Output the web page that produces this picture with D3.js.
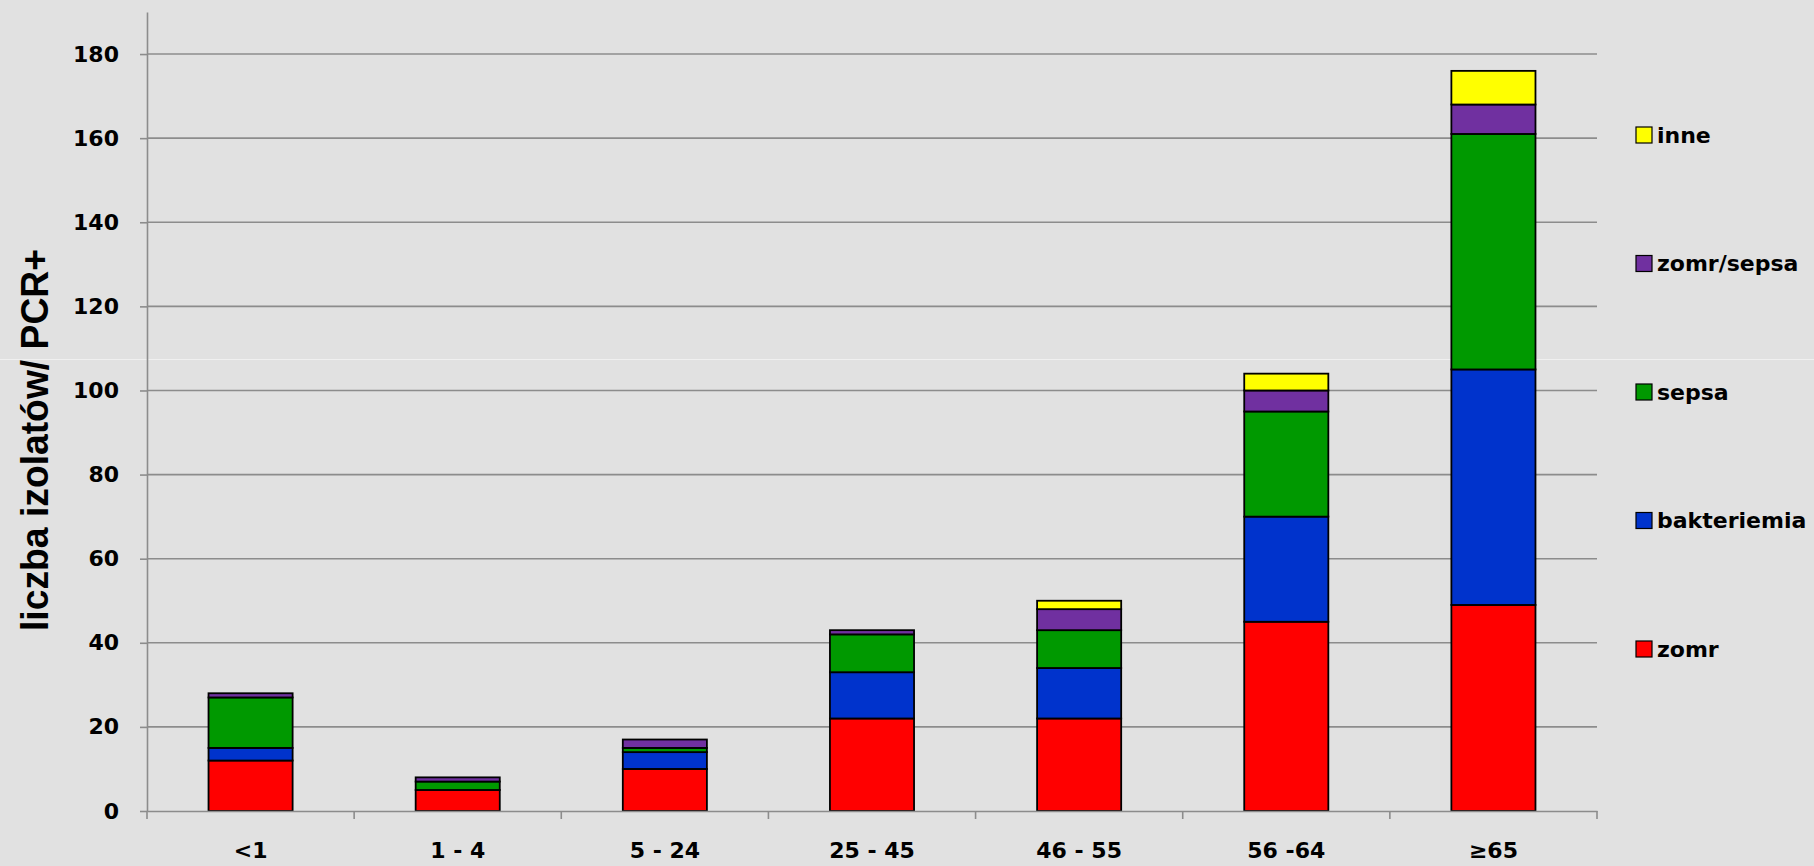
<!DOCTYPE html>
<html>
<head>
<meta charset="utf-8">
<script src="https://cdn.jsdelivr.net/npm/d3@7"></script>
<style>
  html, body { margin: 0; padding: 0; background: #e1e1e1; }
  svg { display: block; }
</style>
</head>
<body>
<svg id="chart" width="1814" height="866"></svg>
<script>
// ---- data ----
const categories = ["<1", "1 - 4", "5 - 24", "25 - 45", "46 - 55", "56 -64", "≥65"];
const seriesNames = ["zomr", "bakteriemia", "sepsa", "zomr/sepsa", "inne"];
const zomr        = [12, 5, 10, 22, 22, 45, 49];
const bakteriemia = [3, 0, 4, 11, 12, 25, 56];
const sepsa       = [12, 2, 1, 9, 9, 25, 56];
const zomrSepsa   = [1, 1, 2, 1, 5, 5, 7];
const inne        = [0, 0, 0, 0, 2, 4, 8];
const yTicks = [0, 20, 40, 60, 80, 100, 120, 140, 160, 180];
const yTitle = "liczba izolatów/ PCR+";

const colors = {"zomr": "#ff0000", "bakteriemia": "#0033cc", "sepsa": "#009900", "zomr/sepsa": "#7030a0", "inne": "#ffff00"};
const seriesValues = {"zomr": zomr, "bakteriemia": bakteriemia, "sepsa": sepsa, "zomr/sepsa": zomrSepsa, "inne": inne};

const table = categories.map((c, i) => {
  const row = {cat: c};
  seriesNames.forEach(s => row[s] = seriesValues[s][i]);
  return row;
});

const svg = d3.select("#chart");
const plotLeft = 147, plotRight = 1597, plotTop = 12, plotBottom = 811;

const x = d3.scaleBand().domain(categories).range([plotLeft, plotRight])
  .paddingInner(0.594).paddingOuter(0.297);
const y = d3.scaleLinear().domain([0, 190]).range([plotBottom, plotTop]);

// faint slide artifact line
svg.append("line").attr("x1", 0).attr("x2", 1814).attr("y1", 359.5).attr("y2", 359.5)
  .attr("stroke", "#f0f0f0").attr("stroke-width", 1);

// gridlines
svg.append("g").selectAll("line").data(yTicks.filter(d => d > 0)).join("line")
  .attr("x1", plotLeft).attr("x2", plotRight)
  .attr("y1", d => y(d)).attr("y2", d => y(d))
  .attr("stroke", "#8c8c8c").attr("stroke-width", 1.6);

// stacked bars
const stack = d3.stack().keys(seriesNames)(table);
const gBars = svg.append("g");
stack.forEach(layer => {
  gBars.append("g").selectAll("rect")
    .data(layer.filter(d => d[1] - d[0] > 0)).join("rect")
    .attr("x", d => x(d.data.cat))
    .attr("width", x.bandwidth())
    .attr("y", d => y(d[1]))
    .attr("height", d => y(d[0]) - y(d[1]))
    .attr("fill", colors[layer.key])
    .attr("stroke", "#000").attr("stroke-width", 1.8);
});

// y axis
const yAxis = svg.append("g").attr("transform", `translate(${plotLeft},0)`)
  .call(d3.axisLeft(y).tickValues(yTicks).tickSize(7).tickSizeOuter(0).tickPadding(21));
yAxis.select(".domain").attr("stroke", "#8c8c8c").attr("stroke-width", 1.6);
yAxis.selectAll(".tick line").attr("stroke", "#8c8c8c").attr("stroke-width", 1.6);
yAxis.selectAll(".tick text").attr("font-family", "DejaVu Sans").attr("font-weight", "bold")
  .attr("font-size", 22).attr("fill", "#000");

// x axis
const xAxis = svg.append("g").attr("transform", `translate(0,${plotBottom})`)
  .call(d3.axisBottom(x).tickSize(0).tickSizeOuter(0).tickPadding(31));
xAxis.select(".domain").attr("stroke", "#8c8c8c").attr("stroke-width", 1.6);
xAxis.selectAll(".tick text").attr("font-family", "DejaVu Sans").attr("font-weight", "bold")
  .attr("font-size", 22).attr("fill", "#000");
// category boundary ticks
const bounds = d3.range(categories.length + 1).map(i => x.range()[0] + i * x.step());
xAxis.append("g").selectAll("line").data(bounds).join("line")
  .attr("x1", d => d).attr("x2", d => d).attr("y1", 0).attr("y2", 8)
  .attr("stroke", "#8c8c8c").attr("stroke-width", 1.6);

// y title
svg.append("text")
  .attr("transform", "translate(48,440) rotate(-90)")
  .attr("text-anchor", "middle")
  .attr("font-family", "'Liberation Sans Narrow', 'Liberation Sans', sans-serif")
  .attr("font-weight", "bold").attr("font-size", 38)
  .attr("textLength", 382).attr("lengthAdjust", "spacingAndGlyphs")
  .attr("fill", "#000")
  .text(yTitle);

// legend
const legendOrder = seriesNames.slice().reverse();
const legendY = d3.scalePoint().domain(legendOrder).range([135, 649]);
const lg = svg.append("g");
legendOrder.forEach(s => {
  const cy = legendY(s);
  lg.append("rect").attr("x", 1636).attr("y", cy - 8).attr("width", 16).attr("height", 16)
    .attr("fill", colors[s]).attr("stroke", "#000").attr("stroke-width", 1.2);
  lg.append("text").attr("x", 1657).attr("y", cy).attr("dy", "0.36em")
    .attr("font-family", "DejaVu Sans").attr("font-weight", "bold").attr("font-size", 22)
    .attr("fill", "#000").text(s);
});
</script>
</body>
</html>
